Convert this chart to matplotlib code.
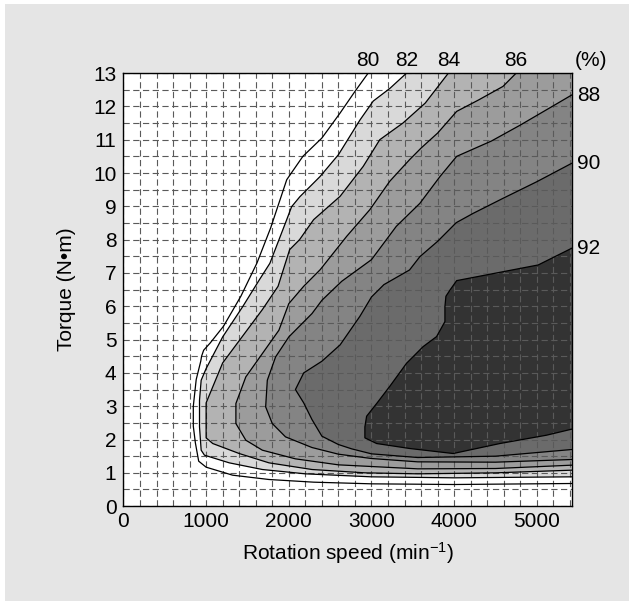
import matplotlib.pyplot as plt
from matplotlib.patches import Rectangle
import numpy as np

# efficiency contour lines (speed in min^-1, torque in N*m)
speed_80 = [2960, 2800, 2620, 2400, 2170, 1975, 1780, 1615, 1420, 1210, 1050, 970, 945, 935,
            880, 845, 845, 870, 910, 1000, 1320, 1760, 2300, 3000, 4000, 5420]
torque_80 = [13.0, 12.45, 11.8, 11.05, 10.5, 9.8, 8.35, 7.3, 6.3, 5.4, 4.9, 4.68, 4.5, 4.35,
             3.8, 3.0, 2.4, 1.9, 1.35, 1.17, 0.93, 0.8, 0.72, 0.67, 0.65, 0.68]

speed_82 = [3424, 3222, 3021, 2860, 2600, 2376, 2134, 2034, 1973, 1771, 1640, 1440, 1200, 1000,
            940, 920, 920, 940, 980, 1280, 1680, 2200, 3000, 4000, 5420]
torque_82 = [13.0, 12.54, 12.16, 11.59, 10.55, 9.89, 9.29, 8.99, 8.59, 7.29, 6.78, 5.98, 5.08, 4.13,
             3.78, 3.18, 2.38, 1.68, 1.53, 1.3, 1.1, 0.97, 0.88, 0.85, 0.88]

speed_84 = [3930, 3650, 3380, 3100, 2900, 2620, 2300, 2130, 2010, 1870, 1680, 1440, 1200, 1000,
            1000, 1080, 1400, 1760, 2280, 2920, 3560, 4500, 5420]
torque_84 = [13.0, 12.1, 11.5, 11.0, 10.2, 9.3, 8.6, 8.0, 7.7, 6.6, 5.9, 5.1, 4.3, 3.1,
             2.05, 1.88, 1.58, 1.3, 1.1, 1.0, 0.97, 1.0, 1.08]

speed_86 = [4750, 4590, 4300, 4030, 3800, 3600, 3460, 3220, 2980, 2700, 2380, 2180, 2000, 1880,
            1680, 1480, 1360, 1360, 1480, 1680, 2080, 2600, 3560, 4500, 5420]
torque_86 = [13.0, 12.6, 12.2, 11.85, 11.2, 10.75, 10.4, 9.75, 8.9, 8.1, 7.1, 6.6, 6.08, 5.28,
             4.58, 3.88, 3.08, 2.48, 1.98, 1.68, 1.42, 1.24, 1.12, 1.13, 1.23]

speed_88 = [5420, 5200, 4800, 4450, 4030, 3830, 3585, 3300, 3000, 2640, 2400, 2280, 2000, 1840,
            1740, 1720, 1800, 1960, 2280, 2600, 3000, 3560, 4500, 5420]
torque_88 = [12.34, 12.02, 11.44, 10.96, 10.5, 9.9, 9.09, 8.4, 7.4, 6.75, 6.18, 5.78, 5.08, 4.48,
             3.78, 2.98, 2.48, 2.08, 1.76, 1.56, 1.43, 1.33, 1.32, 1.4]

speed_90 = [5420, 5000, 4590, 4230, 4025, 3800, 3585, 3460, 3150, 3000, 2860, 2620, 2400, 2180,
            2080, 2180, 2280, 2400, 2600, 2760, 3000, 3560, 4500, 5420]
torque_90 = [10.29, 9.74, 9.24, 8.79, 8.51, 7.95, 7.49, 7.09, 6.65, 6.28, 5.7, 4.84, 4.35, 4.0,
             3.5, 3.1, 2.6, 2.1, 1.85, 1.72, 1.57, 1.46, 1.5, 1.7]

speed_92 = [5420, 5016, 4030, 3950, 3900, 3888, 3888, 3787, 3625, 3424, 3222, 3062, 2941, 2920,
            2920, 3062, 3464, 3988, 4553, 5117, 5420]
torque_92 = [7.74, 7.24, 6.77, 6.49, 6.3, 5.99, 5.54, 5.09, 4.79, 4.29, 3.6, 3.08, 2.7, 2.38,
             2.05, 1.88, 1.73, 1.58, 1.88, 2.13, 2.31]

levels = [80, 82, 84, 86, 88, 90, 92]
x_ticks = [0, 1000, 2000, 3000, 4000, 5000]
y_ticks = list(range(0, 14))

SPEED_MAX = 5420
TORQUE_MAX = 13
FS = 15

plt.rcParams['font.family'] = ['Liberation Sans', 'DejaVu Sans']
plt.rcParams['mathtext.default'] = 'regular'
plt.rcParams['lines.scale_dashes'] = False

fig = plt.figure(figsize=(6.33, 6.04), dpi=100)
fig.patches.append(Rectangle((5 / 633, 3 / 604), 624 / 633, 597 / 604, transform=fig.transFigure,
                             facecolor='#e5e5e5', edgecolor='none', zorder=-1))
ax = fig.add_axes([0.195, 0.162, 0.708, 0.717])

lines = [(speed_80, torque_80), (speed_82, torque_82), (speed_84, torque_84),
         (speed_86, torque_86), (speed_88, torque_88), (speed_90, torque_90),
         (speed_92, torque_92)]
band_colors = ['white', '#d9d9d9', '#b3b3b3', '#9c9c9c', '#848484', '#6b6b6b', '#333333']

# fill the region above each level, lightest first
for (s, t), c in zip(lines, band_colors):
    s = list(s)
    t = list(t)
    if t[0] >= TORQUE_MAX:
        s.append(SPEED_MAX)
        t.append(TORQUE_MAX)
    ax.fill(s, t, color=c, lw=0, zorder=1)

for s, t in lines:
    ax.plot(s, t, color='black', lw=0.9, zorder=3)

ax.set_xlim(0, SPEED_MAX)
ax.set_ylim(0, TORQUE_MAX)
ax.set_xticks(x_ticks)
ax.set_yticks(y_ticks)
ax.set_xticks(np.arange(0, SPEED_MAX, 200), minor=True)
ax.set_yticks(np.arange(0, TORQUE_MAX, 0.5), minor=True)
ax.set_axisbelow(False)
ax.grid(True, which='both', color='#5a5a5a', lw=0.8, linestyle=(0, (4.5, 2.5)))
ax.tick_params(which='both', length=0, labelsize=FS)
ax.tick_params(axis='x', pad=4)
ax.tick_params(axis='y', pad=5)
for sp in ax.spines.values():
    sp.set_linewidth(1.0)
    sp.set_zorder(4)

ax.set_xlabel('Rotation speed (min$^{-1}$)', fontsize=FS, labelpad=7)
ax.set_ylabel('Torque (N\u2022m)', fontsize=FS, labelpad=12)

for lev, (s, t) in zip(levels, lines):
    if t[0] >= TORQUE_MAX:
        ax.annotate(str(lev), (s[0], t[0]), xytext=(0, 2), textcoords='offset points',
                    ha='center', va='bottom', fontsize=FS, annotation_clip=False)
    else:
        ax.annotate(str(lev), (s[0], t[0]), xytext=(4, 0), textcoords='offset points',
                    ha='left', va='center', fontsize=FS, annotation_clip=False)
ax.annotate('(%)', (1, 1), xycoords='axes fraction', xytext=(14, 2), textcoords='offset points',
            ha='center', va='bottom', fontsize=FS)

fig.savefig('out.png', dpi=100, facecolor='white')
